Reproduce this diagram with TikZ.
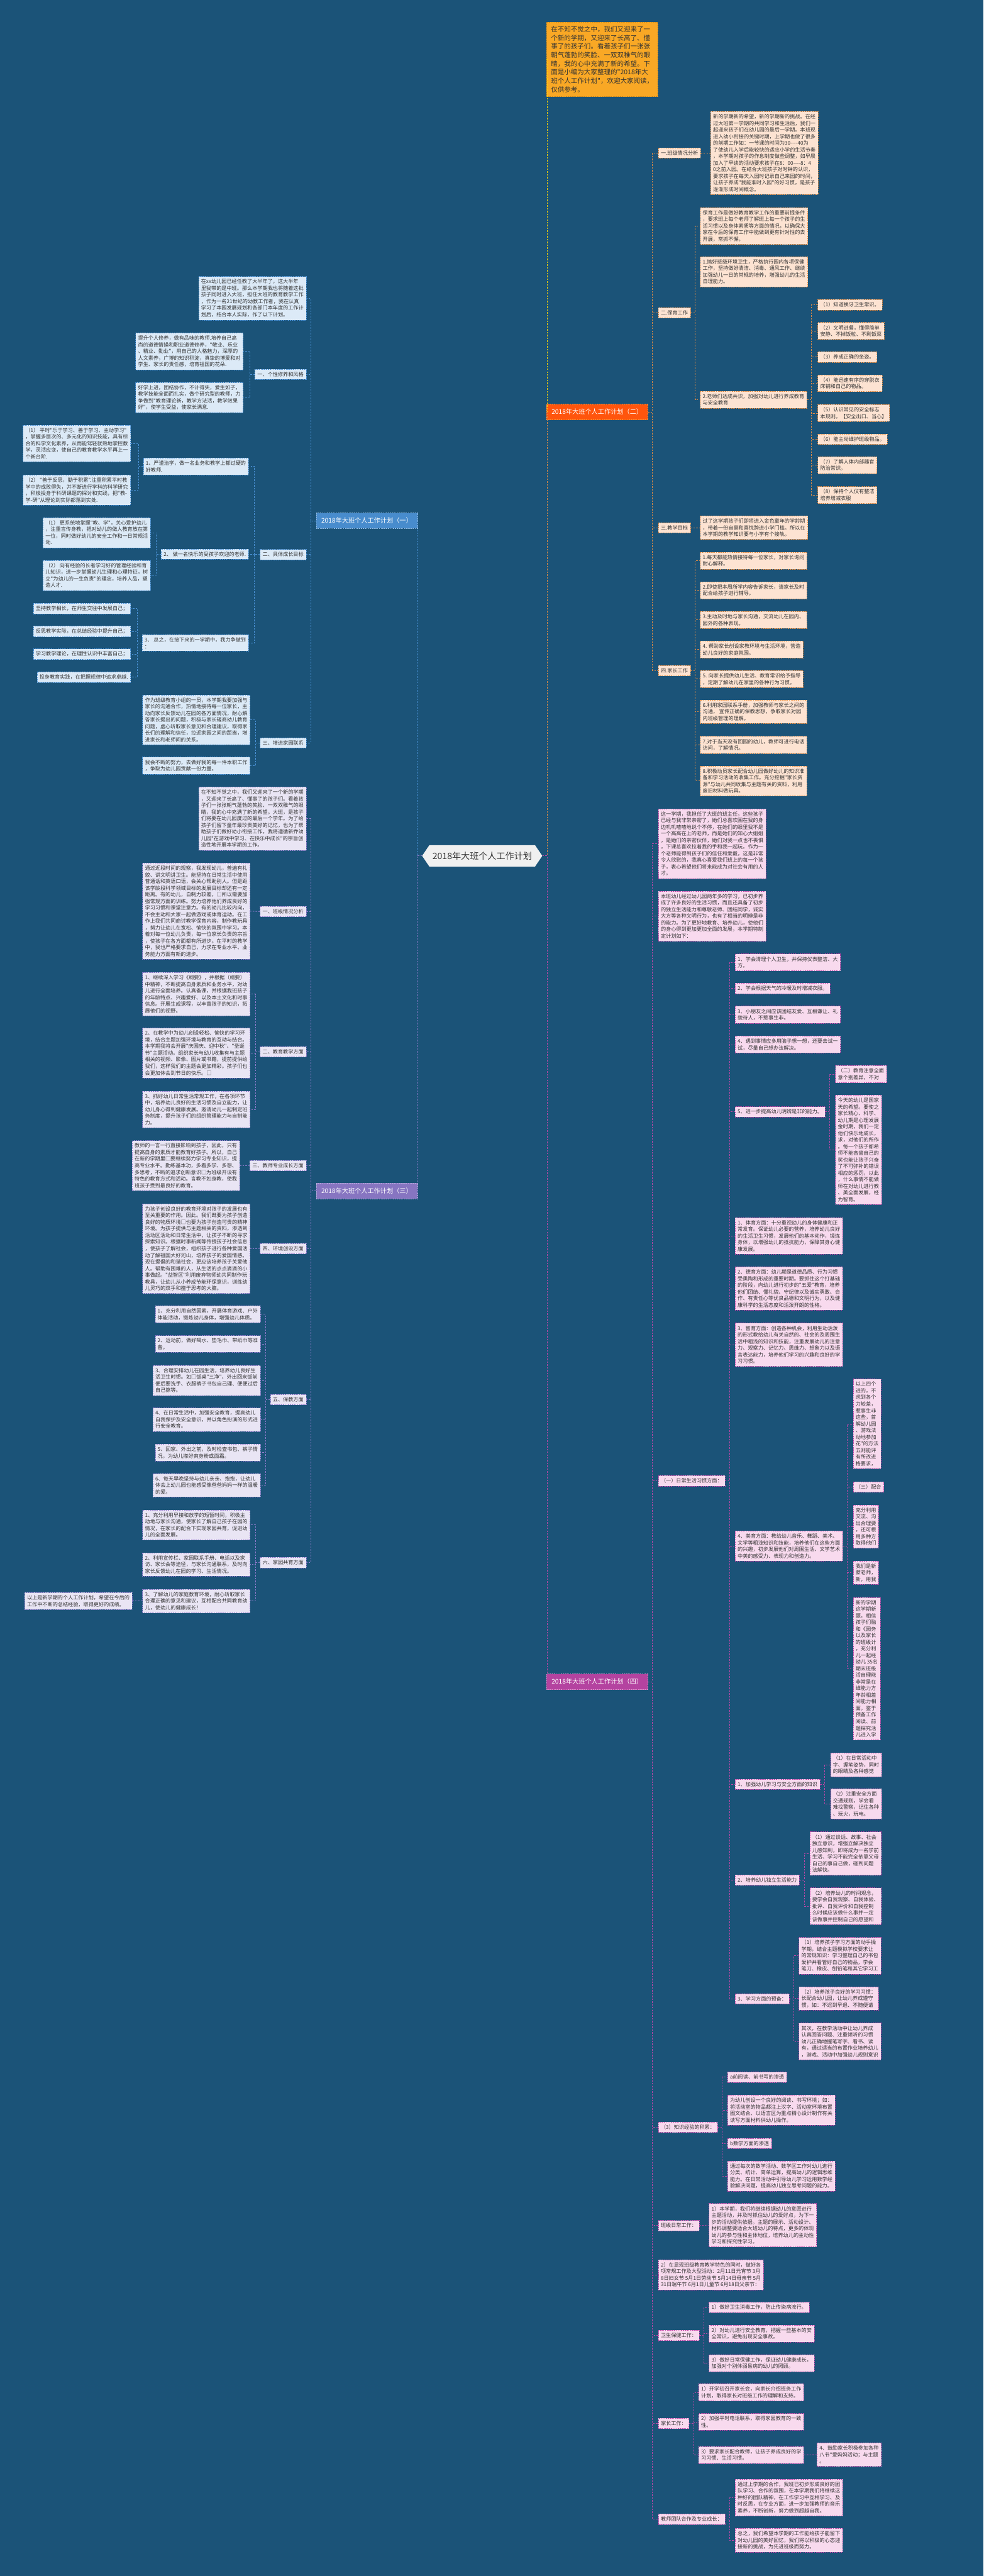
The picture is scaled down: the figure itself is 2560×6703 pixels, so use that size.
\documentclass[tikz,border=0pt]{standalone}
\usepackage{fontspec}
\usetikzlibrary{shapes.symbols}
\newfontfamily\cjk{Noto Sans CJK SC}
\definecolor{bg}{HTML}{1B5378}
\definecolor{txt}{HTML}{333333}
\definecolor{lnA}{HTML}{4C93D8}
\definecolor{fillA}{HTML}{DCEAF7}
\definecolor{lnB}{HTML}{DD8A45}
\definecolor{fillB}{HTML}{FDE3D2}
\definecolor{lnC}{HTML}{8E7BCB}
\definecolor{fillC}{HTML}{E9E5F4}
\definecolor{lnD}{HTML}{BE47A8}
\definecolor{fillD}{HTML}{F8DAEE}
\definecolor{noteY}{HTML}{F9A825}
\newcommand{\ft}{\cjk\fontsize{10}{12.9}\selectfont}
\tikzset{
  box/.style={draw, dash pattern=on 2pt off 1.5pt, line width=0.6pt, align=left, text=txt,
    inner xsep=4.9pt, inner ysep=5.4pt, font=\ft},
  pa/.style={box, fill=fillA, draw=lnA},
  pb/.style={box, fill=fillB, draw=lnB},
  pc/.style={box, fill=fillC, draw=lnC},
  pd/.style={box, fill=fillD, draw=lnD},
  br/.style={draw, dash pattern=on 2pt off 1.5pt, line width=0.6pt, text=white, inner xsep=10pt,
    minimum height=30.5pt, font=\cjk\fontsize{12.5}{15}\selectfont},
  ca/.style={draw=lnA, line width=1pt, dash pattern=on 3pt off 2.5pt},
  cb/.style={draw=lnB, line width=1pt, dash pattern=on 3pt off 2.5pt},
  cc/.style={draw=lnC, line width=1pt, dash pattern=on 3pt off 2.5pt},
  cd/.style={draw=lnD, line width=1pt, dash pattern=on 3pt off 2.5pt},
}
\begin{document}
\begin{tikzpicture}[x=0.75pt,y=-0.75pt]
\useasboundingbox (0,0) rectangle (2560,6703);
\fill[bg] (0,0) rectangle (2560,6703);

% centre
\node[signal, signal to=west and east, signal pointer angle=112, fill=white!94!black, text=txt,
  font=\cjk\fontsize{17.3}{20}\selectfont, minimum height=42pt, inner xsep=6pt] (root) at (1255,2227) {2018年大班个人工作计划};
\node[draw=noteY!80!black, dash pattern=on 2pt off 1.5pt, fill=noteY, text=black!80, align=left,
  font=\cjk\fontsize{12.9}{16.8}\selectfont, inner xsep=9pt, inner ysep=8pt, anchor=north west] (note) at (1422,57)
  {在不知不觉之中，我们又迎来了一\\个新的学期，又迎来了长高了、懂\\事了的孩子们。看着孩子们一张张\\朝气蓬勃的笑脸、一双双稚气的眼\\睛，我的心中充满了新的希望。下\\面是小编为大家整理的"2018年大\\班个人工作计划"，欢迎大家阅读，\\仅供参考。};

\node[br, fill=lnA!95!black, draw=lnA!60!white, anchor=east] (b1) at (1087,1355) {2018年大班个人工作计划（一）};
\node[br, fill=orange!60!red!95!white, draw=orange!70!white, anchor=west] (b2) at (1422,1072) {2018年大班个人工作计划（二）};
\node[br, fill=lnC!95!black, draw=lnC!60!white, anchor=east] (b3) at (1087,3099) {2018年大班个人工作计划（三）};
\node[br, fill=lnD!95!black, draw=lnD!60!white, anchor=west] (b4) at (1422,4376) {2018年大班个人工作计划（四）};

\draw[draw=yellow!70!orange, line width=1pt, dash pattern=on 3pt off 2.5pt] (root.east) -- ++(12,0) |- (note.west);
\draw[cb] (root.east) -- ++(12,0) |- (b2.west);
\draw[cd] (root.east) -- ++(12,0) |- (b4.west);
\draw[ca] (root.west) -- ++(-13,0) |- (b1.east);
\draw[cc] (root.west) -- ++(-13,0) |- (b3.east);

% ---------- (一)
\node[pa, anchor=east] (e1) at (797,776) {在xx幼儿园已经任教了大半年了，这大半年\\里我带的是中班。那么本学期我也将随着这批\\孩子同时进入大班，担任大班的教育教学工作\\，作为一名21世纪的幼教工作者，我在认真\\学习了本园发展规划和各部门本年度的工作计\\划后，结合本人实际，作了以下计划。};
\node[pa, anchor=east] (e2) at (797,974) {一、个性修养和风格};
\node[pa, anchor=east] (e2a) at (633,914) {提升个人修养，做有品味的教师.培养自己高\\尚的道德情操和职业道德修养，"敬业、乐业\\、精业、勤业"，用自己的人格魅力，深厚的\\人文素养，广博的知识积淀，真挚的博爱和对\\学生、家长的责任感，培育祖国的花朵.};
\node[pa, anchor=east] (e2b) at (633,1034) {好学上进，团结协作，不计得失，爱生如子，\\教学技能全面而扎实，做个研究型的教师，力\\争做到"教育理论新，教学方法活，教学效果\\好"，使学生受益，使家长满意.};
\node[pa, anchor=east] (e3) at (797,1443) {二、具体成长目标};
\node[pa, anchor=east] (e31) at (647,1214) {1、严谨治学，做一名业务和教学上都过硬的\\好教师.};
\node[pa, anchor=east] (e31a) at (340,1154) {（1） 平时"乐于学习、善于学习、主动学习"\\，掌握多层次的、多元化的知识技能，具有综\\合的科学文化素养，从而能驾轻就熟地掌控教\\学，灵活应变，使自己的教育教学水平再上一\\个新台阶.};
\node[pa, anchor=east] (e31b) at (340,1275) {（2） "善于反思，勤于积累".注重积累平时教\\学中的成败得失，并不断进行学科的科学研究\\，积极投身于科研课题的探讨和实践，把"教-\\学-研"从理论到实际都落到实处.};
\node[pa, anchor=east] (e32) at (647,1442) {2、 做一名快乐的受孩子欢迎的老师.};
\node[pa, anchor=east] (e32a) at (392,1386) {（1） 更系统地掌握"教、学"，关心爱护幼儿\\，注重言传身教，把对幼儿的做人教育放在第\\一位，同时做好幼儿的安全工作和一日常规活\\动.};
\node[pa, anchor=east] (e32b) at (392,1497) {（2） 向有经验的长者学习好的管理经验和育\\儿知识，进一步掌握幼儿生理和心理特征，树\\立"为幼儿的一生负责"的理念，培养人品，塑\\造人才.};
\node[pa, anchor=east] (e33) at (647,1673) {3、 总之，在接下来的一学期中，我力争做到\\：};
\node[pa, anchor=east] (e33a) at (340,1583) {坚持教学相长，在师生交往中发展自己；};
\node[pa, anchor=east] (e33b) at (340,1643) {反思教学实际，在总结经验中提升自己；};
\node[pa, anchor=east] (e33c) at (340,1702) {学习教学理论，在理性认识中丰富自己；};
\node[pa, anchor=east] (e33d) at (340,1762) {投身教育实践，在把握规律中追求卓越.};
\node[pa, anchor=east] (e4) at (797,1933) {三、增进家园联系};
\node[pa, anchor=east] (e4a) at (651,1873) {作为班级教育小组的一员，本学期我要加强与\\家长的沟通合作，热情地接待每一位家长，主\\动向家长反馈幼儿在园的各方面情况，耐心解\\答家长提出的问题，积极与家长磋商幼儿教育\\问题，虚心听取家长意见和合理建议，取得家\\长们的理解和信任，拉近家园之间的距离，增\\进家长和老师间的关系。};
\node[pa, anchor=east] (e4b) at (651,1992) {我会不断的努力，去做好我的每一件本职工作\\，争取为幼儿园贡献一份力量。};

\foreach \c in {e1,e2,e3,e4} \draw[ca] (b1.west) -- ++(-14,0) |- (\c.east);
\foreach \c in {e2a,e2b} \draw[ca] (e2.west) -- ++(-12,0) |- (\c.east);
\foreach \c in {e31,e32,e33} \draw[ca] (e3.west) -- ++(-14,0) |- (\c.east);
\foreach \c in {e31a,e31b} \draw[ca] (e31.west) -- ++(-12,0) |- (\c.east);
\foreach \c in {e32a,e32b} \draw[ca] (e32.west) -- ++(-12,0) |- (\c.east);
\foreach \c in {e33a,e33b,e33c,e33d} \draw[ca] (e33.west) -- ++(-12,0) |- (\c.east);
\foreach \c in {e4a,e4b} \draw[ca] (e4.west) -- ++(-12,0) |- (\c.east);

% ---------- (二)
\node[pb, anchor=west] (s21) at (1713,398) {一.班级情况分析};
\node[pb, anchor=west] (s21a) at (1849,398) {新的学期新的希望，新的学期新的挑战。在经\\过大班第一学期的共同学习和生活后，我们一\\起迎来孩子们在幼儿园的最后一学期。本班现\\进入幼小衔接的关键时期，上学期也做了很多\\的前期工作如：一节课的时间为30----40为\\了使幼儿入学后能较快的适应小学的生活节奏\\，本学期对孩子的作息制度做些调整，如早晨\\加入了早读的活动要求孩子在8：00----8：4\\0之前入园。在结合大班孩子对时钟的认识，\\要求孩子在每天入园时记录自己来园的时间，\\让孩子养成"我能准时入园"的好习惯，是孩子\\逐渐形成时间概念。};
\node[pb, anchor=west] (s22) at (1713,814) {二.保育工作};
\node[pb, anchor=west] (s22a) at (1822,588) {保育工作是做好教育教学工作的重要前提条件\\，要求班上每个老师了解班上每一个孩子的生\\活习惯以及身体素质等方面的情况，以确保大\\家在今后的保育工作中能做到更有针对性的去\\开展，常抓不懈。};
\node[pb, anchor=west] (s22b) at (1822,707) {1.搞好班级环境卫生，严格执行园内各项保健\\工作，坚持做好清洁、消毒、通风工作、继续\\加强幼儿一日的常规的培养，增强幼儿的生活\\自理能力。};
\node[pb, anchor=west] (s22c) at (1822,1040) {2.老师们达成共识，加强对幼儿进行养成教育\\与安全教育};
\node[pb, anchor=west] (s22c1) at (2128,793) {（1）知道换牙卫生常识。};
\node[pb, anchor=west] (s22c2) at (2128,861) {（2）文明进餐，懂得简单\\安静、不掉饭粒、不剩饭菜};
\node[pb, anchor=west] (s22c3) at (2128,929) {（3）养成正确的坐姿。};
\node[pb, anchor=west] (s22c4) at (2128,997) {（4）能迅速有序的穿脱衣\\床铺和自己的物品。};
\node[pb, anchor=west] (s22c5) at (2128,1075) {（5）认识常见的安全标志\\本规则。【安全出口、当心】};
\node[pb, anchor=west] (s22c6) at (2128,1143) {（6）能主动维护班级物品。};
\node[pb, anchor=west] (s22c7) at (2128,1210) {（7）了解人体内部器官\\防治常识。};
\node[pb, anchor=west] (s22c8) at (2128,1288) {（8）保持个人仪有整洁\\培养增减衣服};
\node[pb, anchor=west] (s23) at (1713,1373) {三.教学目标};
\node[pb, anchor=west] (s23a) at (1822,1373) {过了这学期孩子们即将进入金色童年的学龄期\\，带着一份自豪和喜悦跨进小学门槛。所以在\\本学期的教学知识要与小学有个接轨。};
\node[pb, anchor=west] (s24) at (1713,1745) {四.家长工作};
\node[pb, anchor=west] (s24a) at (1822,1459) {1.每天都能热情接待每一位家长，对家长询问\\耐心解释。};
\node[pb, anchor=west] (s24b) at (1822,1536) {2.即使把本周所学内容告诉家长，请家长及时\\配合给孩子进行辅导。};
\node[pb, anchor=west] (s24c) at (1822,1613) {3.主动及时地与家长沟通，交流幼儿在园内、\\园外的各种表现。};
\node[pb, anchor=west] (s24d) at (1822,1690) {4. 帮助家长创设家教环境与生活环境，营造\\幼儿良好的家庭氛围。};
\node[pb, anchor=west] (s24e) at (1822,1767) {5. 向家长提供幼儿生活、教育常识给予指导\\，定期了解幼儿在家里的各种行为习惯。};
\node[pb, anchor=west] (s24f) at (1822,1852) {6.利用家园联系手册，加强教师与家长之间的\\沟通， 宣传正确的保教思想，争取家长对园\\内班级管理的理解。};
\node[pb, anchor=west] (s24g) at (1822,1938) {7.对于当天没有回园的幼儿，教师可进行电话\\访问，了解情况。};
\node[pb, anchor=west] (s24h) at (1822,2032) {8.积极动员家长配合幼儿园做好幼儿的知识准\\备和学习活动的收集工作。充分挖掘"家长资\\源"与幼儿共同收集与主题有关的资料，利用\\废旧材料做玩具。};

\foreach \c in {s21,s22,s23,s24} \draw[cb] (b2.east) -- ++(12,0) |- (\c.west);
\draw[cb] (s21.east) -- (s21a.west);
\foreach \c in {s22a,s22b,s22c} \draw[cb] (s22.east) -- ++(12,0) |- (\c.west);
\foreach \c in {s22c1,s22c2,s22c3,s22c4,s22c5,s22c6,s22c7,s22c8} \draw[cb] (s22c.east) -- ++(12,0) |- (\c.west);
\draw[cb] (s23.east) -- (s23a.west);
\foreach \c in {s24a,s24b,s24c,s24d,s24e,s24f,s24g,s24h} \draw[cb] (s24.east) -- ++(12,0) |- (\c.west);

% ---------- (三)
\node[pc, anchor=east] (k1) at (797,2130) {在不知不觉之中，我们又迎来了一个新的学期\\，又迎来了长高了、懂事了的孩子们。看着孩\\子们一张张朝气蓬勃的笑脸、一双双稚气的眼\\睛，我的心中充满了新的希望。大班，是孩子\\们将要在幼儿园度过的最后一个学年。为了给\\孩子们留下童年最珍贵美好的记忆，也为了帮\\助孩子们做好幼小衔接工作。我将遵循新乔幼\\儿园"在游戏中学习、在快乐中成长"的宗旨创\\造性地开展本学期的工作。};
\node[pc, anchor=east] (k2) at (797,2372) {一、班级情况分析};
\node[pc, anchor=east] (k2a) at (651,2371) {通过近段时间的观察，我发现幼儿，普遍有礼\\貌、讲文明讲卫生。能坚持在日常生活中使用\\普通话和英语口语，会关心帮助别人。但是距\\该学龄段科学领域目标的发展目标却还有一定\\距离。有的幼儿，自制力较差，□所以需要加\\强常规方面的训练。努力培养他们养成良好的\\学习习惯和课堂注意力。有的幼儿比较内向，\\不会主动和大家一起做游戏或体育运动。在工\\作上我们共同商讨教学保育内容，制作教玩具\\，努力让幼儿在宽松、愉快的氛围中学习。本\\着对每一位幼儿负责，每一位家长负责的宗旨\\，使孩子在各方面都有所进步。在平时的教学\\中，我也严格要求自己，力求在专业水平、业\\务能力方面有新的进步。};
\node[pc, anchor=east] (k3) at (797,2737) {二、教育教学方面};
\node[pc, anchor=east] (k3a) at (651,2587) {1、继续深入学习《纲要》，并根据（纲要）\\中精神，不断提高自身素质和业务水平，对幼\\儿进行全面培养。认真备课，并根据我班孩子\\的年龄特点、兴趣爱好、以及本土文化和时事\\信息。开展生成课程，以丰富孩子的知识，拓\\展他们的视野。};
\node[pc, anchor=east] (k3b) at (651,2740) {2、在教学中为幼儿创设轻松、愉快的学习环\\境，结合主题加强环境与教育的互动与结合。\\本学期我将会开展"庆国庆、迎中秋"、"圣诞\\节"主题活动。组织家长与幼儿收集有与主题\\相关的视频、影像、图片或书籍，提前提供给\\我们，这样我们的主题会更加精彩。孩子们也\\会更加体会到节日的快乐。□};
\node[pc, anchor=east] (k3c) at (651,2887) {3、抓好幼儿日常生活常规工作，在各项环节\\中，培养幼儿良好的生活习惯及自立能力，让\\幼儿身心得到健康发展。邀请幼儿一起制定班\\务制度，提升孩子们的组织管理能力与自制能\\力。};
\node[pc, anchor=east] (k4) at (797,3033) {三、教师专业成长方面};
\node[pc, anchor=east] (k4a) at (624,3033) {教师的一言一行直接影响到孩子，因此，只有\\提高自身的素质才能教育好孩子。所以，自己\\在新的学期里□要继续努力学习专业知识，提\\高专业水平。勤练基本功，多看多学、多想、\\多思考，不断的追求创新意识□为班级开设有\\特色的教育方式和活动。言教不如身教，使我\\班孩子受到最良好的教育。};
\node[pc, anchor=east] (k5) at (797,3249) {四、环境创设方面};
\node[pc, anchor=east] (k5a) at (651,3249) {为孩子创设良好的教育环境对孩子的发展也有\\至关重要的作用。因此。我们既要为孩子创造\\良好的物质环境□也要为孩子创造可贵的精神\\环境。为孩子提供与主题相关的资料，渗透到\\活动区活动和日常生活中，让孩子不断的寻求\\探索知识。根据时事新闻等传授孩子社会信息\\，使孩子了解社会，组织孩子进行各种爱国活\\动了解祖国大好河山，培养孩子的爱国情感。\\现在提倡的和谐社会，更应该培养孩子关爱他\\人。帮助有困难的人，从生活的点点滴滴的小\\事做起。"益智区"利用废弃物师幼共同制作玩\\教具，让幼儿从小养成节能环保意识，训练幼\\儿灵巧的双手和擅于思考的大脑。};
\node[pc, anchor=east] (k6) at (797,3642) {五、保教方面};
\node[pc, anchor=east] (k6a) at (678,3420) {1、充分利用自然因素，开展体育游戏、户外\\体能活动，锻炼幼儿身体，增强幼儿体质。};
\node[pc, anchor=east] (k6b) at (678,3497) {2、运动前，做好喝水、垫毛巾、带纸巾等准\\备。};
\node[pc, anchor=east] (k6c) at (678,3592) {3、合理安排幼儿在园生活，培养幼儿良好生\\活卫生时惯。如□饭桌"三净"、外出回来饭前\\便后要洗手、衣服裤子书包自己理、便便过后\\自己擦等。};
\node[pc, anchor=east] (k6d) at (678,3694) {4、在日常生活中，加强安全教育，提高幼儿\\自我保护及安全意识，并以角色扮演的形式进\\行安全教育。};
\node[pc, anchor=east] (k6e) at (678,3780) {5、回家、外出之前，及时检查书包、裤子情\\况，为幼儿搽好爽身粉或面霜。};
\node[pc, anchor=east] (k6f) at (678,3865) {6、每天早晚坚持与幼儿亲亲、抱抱，让幼儿\\体会上幼儿园也能感受像爸爸妈妈一样的温暖\\的爱。};
\node[pc, anchor=east] (k7) at (797,4066) {六、家园共育方面};
\node[pc, anchor=east] (k7a) at (651,3968) {1、充分利用早接和放学的短暂时间，积极主\\动地与家长沟通，使家长了解自己孩子在园的\\情况，在家长的配合下实现家园共育，促进幼\\儿的全面发展。};
\node[pc, anchor=east] (k7b) at (651,4071) {2、利用宣传栏、家园联系手册、电话以及家\\访、家长会等途径，与家长沟通联系，及时向\\家长反馈幼儿在园的学习、生活情况。};
\node[pc, anchor=east] (k7c) at (651,4166) {3、了解幼儿的家庭教育环境，耐心听取家长\\合理正确的意见和建议，互相配合共同教育幼\\儿，使幼儿的健康成长！};
\node[pc, anchor=east] (k7d) at (344,4166) {以上是新学期的个人工作计划，希望在今后的\\工作中不断的总结经验，取得更好的成绩。};

\foreach \c in {k1,k2,k3,k4,k5,k6,k7} \draw[cc] (b3.west) -- ++(-14,0) |- (\c.east);
\draw[cc] (k2.west) -- (k2a.east);
\foreach \c in {k3a,k3b,k3c} \draw[cc] (k3.west) -- ++(-12,0) |- (\c.east);
\draw[cc] (k4.west) -- (k4a.east);
\draw[cc] (k5.west) -- (k5a.east);
\foreach \c in {k6a,k6b,k6c,k6d,k6e,k6f} \draw[cc] (k6.west) -- ++(-12,0) |- (\c.east);
\foreach \c in {k7a,k7b,k7c} \draw[cc] (k7.west) -- ++(-12,0) |- (\c.east);
\draw[cc] (k7c.west) -- (k7d.east);

% ---------- (四)
\node[pd, anchor=west] (f1) at (1713,2195) {这一学期，我担任了大班的班主任，这些孩子\\已经与我非常亲密了，她们总喜欢围在我的身\\边叽叽喳喳地说个不停，在她们的眼里我不是\\一个高高在上的老师，而是她们的知心大姐姐\\，是她们的亲密伙伴，她们对我一点也不畏惧\\，下课总喜欢拉着我的手和我一起玩。作为一\\个老师能得到孩子们的信任和爱戴，这是非常\\令人欣慰的，我真心喜爱我们班上的每一个孩\\子，衷心希望他们将来能成为对社会有用的人\\才。};
\node[pd, anchor=west] (f2) at (1713,2384) {本班幼儿经过幼儿园两年多的学习，已初步养\\成了许多良好的生活习惯，而且还具备了初步\\的独立生活能力和尊敬老师、团结同学，诚实\\大方等各种文明行为，也有了相当的明辨是非\\的能力。为了更好地教育、培养幼儿，使他们\\的身心得到更加更加全面的发展，本学期特制\\定计划如下：};
\node[pd, anchor=west] (f3) at (1713,3853) {（一）日常生活习惯方面：};
\node[pd, anchor=west] (g1) at (1913,2504) {1、学会清理个人卫生，并保持仪表整洁、大\\方。};
\node[pd, anchor=west] (g2) at (1913,2572) {2、学会根据天气的冷暖及时增减衣服。};
\node[pd, anchor=west] (g3) at (1913,2640) {3、小朋友之间应该团结友爱、互相谦让、礼\\貌待人，不惹事生非。};
\node[pd, anchor=west] (g4) at (1913,2718) {4、遇到事情应多用脑子想一想，还要去试一\\试，尽量自己想办法解决。};
\node[pd, anchor=west] (g5) at (1913,2893) {5、进一步提高幼儿明辨是非的能力。};
\node[pd, anchor=west] (g5a) at (2174,2795) {（二）教育注意全面\\意个别差异，不对};
\node[pd, anchor=west] (g5b) at (2174,2992) {今天的幼儿是国家\\天的希望。要使之\\家长精心、科学、\\幼儿期是心理发展\\金时期，我们一定\\他们快乐地成长，\\求，对他们的所作\\。每一个孩子都希\\师不能吝啬自己的\\奖也能让孩子兴奋\\了不可弥补的错误\\相应的惩罚，以此\\，什么事情不能做\\师在对幼儿进行教\\、美全面发展，经\\为智育。};
\node[pd, anchor=west] (g6) at (1913,3216) {1、体育方面：十分重视幼儿的身体健康和正\\常发育。保证幼儿必要的营养，培养幼儿良好\\的生活卫生习惯，发展他们的基本动作，锻炼\\身体，以增强幼儿的抵抗能力，保障其身心健\\康发展。};
\node[pd, anchor=west] (g7) at (1913,3353) {2、德育方面：幼儿期是道德品质、行为习惯\\受熏陶和形成的重要时期。要抓住这个打基础\\的阶段，向幼儿进行初步的"五爱"教育，培养\\他们团结、懂礼貌、守纪律以及诚实勇敢、合\\作、有责任心等优良品德和文明行为，以及健\\康科学的生活态度和活泼开朗的性格。};
\node[pd, anchor=west] (g8) at (1913,3499) {3、智育方面：创造各种机会，利用生动活泼\\的形式教给幼儿有关自然的、社会的及周围生\\活中粗浅的知识和技能，注重发展幼儿的注意\\力、观察力、记忆力、思维力、想象力以及语\\言表达能力，培养他们学习的兴趣和良好的学\\习习惯。};
\node[pd, anchor=west] (g9) at (1913,4023) {4、美育方面：教给幼儿音乐、舞蹈、美术、\\文学等粗浅知识和技能，培养他们在这些方面\\的兴趣，初步发展他们对周围生活、文学艺术\\中美的感受力、表现力和创造力。};
\node[pd, anchor=west] (g9a) at (2220,3705) {以上四个\\进的，不\\虑到各个\\力较差，\\惹事生非\\这些，首\\解幼儿园\\、游戏法\\动地参加\\花"的方法\\五则能评\\有所改进\\格要求，};
\node[pd, anchor=west] (g9b) at (2220,3869) {（三）配合};
\node[pd, anchor=west] (g9c) at (2220,3972) {充分利用\\交流、沟\\出合理要\\，还可根\\用多种方\\取得他们};
\node[pd, anchor=west] (g9d) at (2220,4092) {我们是新\\蒙老师，\\新，用我};
\node[pd, anchor=west] (g9e) at (2220,4342) {新的学期\\这学期新\\题，相信\\孩子们融\\和《园务\\以及家长\\的班级计\\，充分利\\儿一起经\\幼儿 35名\\期末班级\\活自理能\\非常是在\\维能力方\\年龄相差\\间能力相\\面。鉴于\\预备工作\\阅读、前\\题探究活\\儿进入学};
\node[pd, anchor=west] (g10) at (1913,4643) {1、加强幼儿学习与安全方面的知识};
\node[pd, anchor=west] (g10a) at (2161,4592) {（1）在日常活动中\\字、握笔姿势，同时\\的眼睛及各种感觉};
\node[pd, anchor=west] (g10b) at (2161,4694) {（2）注重安全方面\\交通规则，学会看\\难找警察，记住各种\\、玩火，玩电。};
\node[pd, anchor=west] (g11) at (1913,4892) {2、培养幼儿独立生活能力};
\node[pd, anchor=west] (g11a) at (2107,4823) {（1）通过谈话、故事、社会\\独立意识，增强立解决独立\\儿感知到，即将成为一名学前\\生活、学习不能完全依靠父母\\自己的事自己做，碰到问题\\法解快。};
\node[pd, anchor=west] (g11b) at (2107,4960) {（2）培养幼儿的时间观念，\\要学会自我观察、自我体验、\\批评、自我评价和自我控制\\么时候应该做什么事并一定\\该做事并控制自己的愿望和};
\node[pd, anchor=west] (g12) at (1913,5201) {3、学习方面的预备：};
\node[pd, anchor=west] (g12a) at (2079,5089) {（1）培养孩子学习方面的动手操\\学期，结合主题模拟学校要求让\\的常规知识：学习整理自己的书包\\爱护并看管好自己的物品，学会\\笔刀、橡皮、刨铅笔和其它学习工};
\node[pd, anchor=west] (g12b) at (2079,5200) {（2）培养孩子良好的学习习惯：\\长配合幼儿园，让幼儿养成遵守\\惯，如：不迟到早退、不随便请};
\node[pd, anchor=west] (g12c) at (2079,5312) {其次，在教学活动中让幼儿养成\\认真回答问题、注重倾听的习惯\\幼儿正确地握笔写字、看书、读\\有，通过适当的布置作业培养幼儿\\，游戏、活动中加强幼儿规则意识};
\node[pd, anchor=west] (f4) at (1713,5535) {（3）知识经验的积累：};
\node[pd, anchor=west] (h1) at (1893,5405) {a前阅读、前书写的渗透};
\node[pd, anchor=west] (h2) at (1893,5491) {为幼儿创设一个良好的阅读、书写环境；如：\\将活动室的物品都注上汉字、活动室环境布置\\图文结合、以语言区为重点精心设计制作有关\\读写方面材料供幼儿操作。};
\node[pd, anchor=west] (h3) at (1893,5577) {b数学方面的渗透};
\node[pd, anchor=west] (h4) at (1893,5662) {通过每次的数学活动、数学区工作对幼儿进行\\分类、统计、简单运算，提高幼儿的逻辑思维\\能力。在日常活动中引导幼儿学习运用数学经\\验解决问题，提高幼儿独立思考问题的能力。};
\node[pd, anchor=west] (f5) at (1713,5791) {班级日常工作：};
\node[pd, anchor=west] (f5a) at (1845,5790) {1）本学期，我们将继续根据幼儿的意愿进行\\主题活动，并及时抓住幼儿的爱好点，为下一\\步的活动提供依据。主题的展示、活动设计、\\材料调整要适合大班幼儿的特点，更多的体现\\幼儿的参与性和主体地位，培养幼儿的主动性\\学习和探究性学习。};
\node[pd, anchor=west] (f6) at (1713,5919) {2）在显现班级教育教学特色的同时，做好各\\项常规工作及大型活动：2月11日元宵节 3月\\8日妇女节 5月1日劳动节 5月14日母亲节 5月\\31日端午节 6月1日儿童节 6月18日父亲节：};
\node[pd, anchor=west] (f7) at (1713,6077) {卫生保健工作：};
\node[pd, anchor=west] (f7a) at (1845,6004) {1）做好卫生消毒工作，防止传染病流行。};
\node[pd, anchor=west] (f7b) at (1845,6072) {2）对幼儿进行安全教育，把握一些基本的安\\全常识，避免出现安全事故。};
\node[pd, anchor=west] (f7c) at (1845,6149) {3）做好日常保健工作，保证幼儿健康成长，\\加强对个别体弱易病的幼儿的照顾。};
\node[pd, anchor=west] (f8) at (1713,6306) {家长工作：};
\node[pd, anchor=west] (f8a) at (1818,6225) {1）开学初召开家长会，向家长介绍班务工作\\计划，取得家长对班级工作的理解和支持。};
\node[pd, anchor=west] (f8b) at (1818,6302) {2）加强平时电话联系，取得家园教育的一致\\性。};
\node[pd, anchor=west] (f8c) at (1818,6388) {3）要求家长配合教师，让孩子养成良好的学\\习习惯、生活习惯。};
\node[pd, anchor=west] (f8d) at (2126,6387) {4、鼓励家长积极参加各种\\八节"爱妈妈活动；与主题\\。};
\node[pd, anchor=west] (f9) at (1713,6555) {教师团队合作及专业成长：};
\node[pd, anchor=west] (f9a) at (1913,6499) {通过上学期的合作，我班已初步形成良好的团\\队学习、合作的氛围，在本学期我们将继续这\\种好的团队精神，在工作学习中互相学习、及\\时反思，在专业方面，进一步加强教师的音乐\\素养，不断创新，努力做到超越自我。};
\node[pd, anchor=west] (f9b) at (1913,6610) {总之，我们希望本学期的工作能给孩子能留下\\对幼儿园的美好回忆，我们将以积极的心态迎\\接新的挑战，为先进班级而努力。};

\foreach \c in {f1,f2,f3,f4,f5,f6,f7,f8,f9} \draw[cd] (b4.east) -- ++(12,0) |- (\c.west);
\foreach \c in {g1,g2,g3,g4,g5,g6,g7,g8,g9,g10,g11,g12} \draw[cd] (f3.east) -- ++(12,0) |- (\c.west);
\foreach \c in {g5a,g5b} \draw[cd] (g5.east) -- ++(12,0) |- (\c.west);
\foreach \c in {g9a,g9b,g9c,g9d,g9e} \draw[cd] (g9.east) -- ++(12,0) |- (\c.west);
\foreach \c in {g10a,g10b} \draw[cd] (g10.east) -- ++(12,0) |- (\c.west);
\foreach \c in {g11a,g11b} \draw[cd] (g11.east) -- ++(12,0) |- (\c.west);
\foreach \c in {g12a,g12b,g12c} \draw[cd] (g12.east) -- ++(12,0) |- (\c.west);
\foreach \c in {h1,h2,h3,h4} \draw[cd] (f4.east) -- ++(12,0) |- (\c.west);
\draw[cd] (f5.east) -- (f5a.west);
\foreach \c in {f7a,f7b,f7c} \draw[cd] (f7.east) -- ++(12,0) |- (\c.west);
\foreach \c in {f8a,f8b,f8c} \draw[cd] (f8.east) -- ++(12,0) |- (\c.west);
\draw[cd] (f8c.east) -- (f8d.west);
\foreach \c in {f9a,f9b} \draw[cd] (f9.east) -- ++(12,0) |- (\c.west);
\end{tikzpicture}
\end{document}
